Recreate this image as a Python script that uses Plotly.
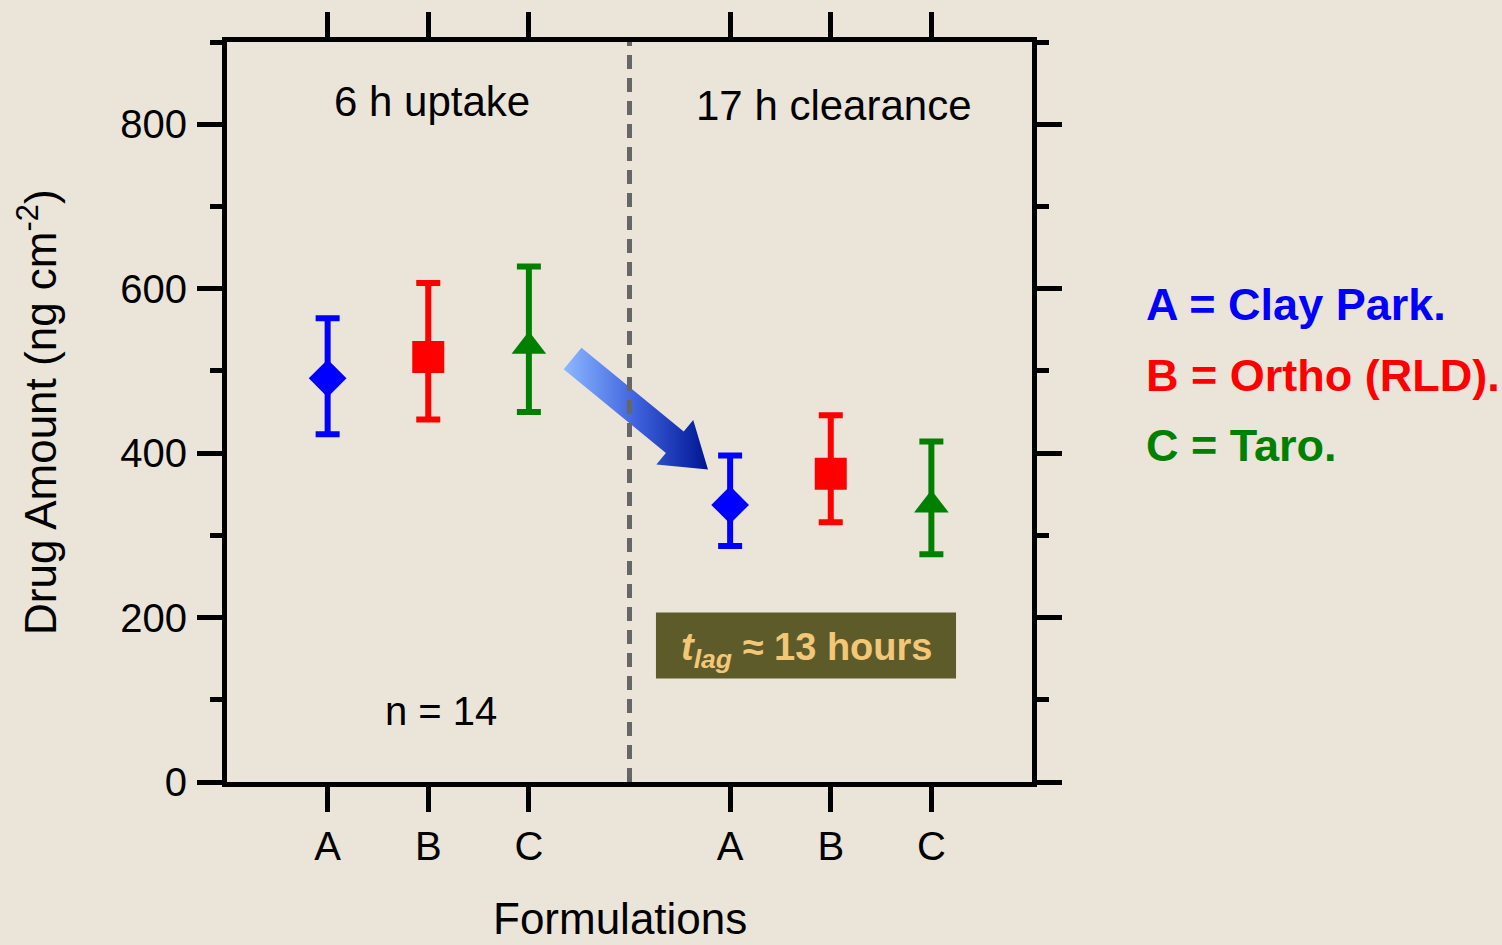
import numpy as np
import plotly.graph_objects as go

# Drug amount per formulation after 6 h uptake and 17 h clearance
formulations = ["A", "B", "C"]
phase_positions = {"6h": [1, 2, 3], "17h": [5, 6, 7]}
mean_6h = [491, 517, 530]
upper_6h = [564, 607, 627]
lower_6h = [423, 441, 450]
mean_17h = [337, 375, 337]
upper_17h = [397, 446, 414]
lower_17h = [287, 316, 277]

tick_vals = [1, 2, 3, 5, 6, 7]
tick_text = ["A", "B", "C", "A", "B", "C"]
legend_lines = ["A = Clay Park.", "B = Ortho (RLD).", "C = Taro."]

colors = ["#0000ff", "#ff0000", "#008000"]
symbols = ["diamond", "square", "triangle-up"]
sizes = [29, 32, 30]

W, H = 1502, 945
L, R, T, B = 227, 470, 38, 163
XR = (0, 8)
YR = (0, 900)
sx = (W - L - R) / (XR[1] - XR[0])
sy = (H - T - B) / (YR[1] - YR[0])

fig = go.Figure()

for i, name in enumerate(formulations):
    means = [mean_6h[i], mean_17h[i]]
    ups = [upper_6h[i], upper_17h[i]]
    lows = [lower_6h[i], lower_17h[i]]
    fig.add_trace(go.Scatter(
        x=[phase_positions["6h"][i], phase_positions["17h"][i]],
        y=means,
        mode="markers",
        name=name,
        marker=dict(symbol=symbols[i], size=sizes[i], color=colors[i],
                    line=dict(width=0)),
        error_y=dict(type="data", symmetric=False,
                     array=[u - m for u, m in zip(ups, means)],
                     arrayminus=[m - lo for m, lo in zip(means, lows)],
                     color=colors[i], thickness=6, width=12),
        hoverinfo="skip",
    ))

# Gradient arrow from the uptake group towards the clearance group
tail = np.array([3.434, 515.0])
tip = np.array([4.78, 380.0])
shaft_w, head_w, head_len = 28.0, 58.0, 43.0


def to_px(p):
    return np.array([(p[0] - XR[0]) * sx, -(p[1] - YR[0]) * sy])


def to_data(q):
    return (q[0] / sx + XR[0], -q[1] / sy + YR[0])


tp, hp = to_px(tail), to_px(tip)
d = hp - tp
u = d / np.linalg.norm(d)
n = np.array([-u[1], u[0]])
base = hp - u * head_len
pts_px = [
    tp - n * shaft_w / 2,
    base - n * shaft_w / 2,
    base - n * head_w / 2,
    hp,
    base + n * head_w / 2,
    base + n * shaft_w / 2,
    tp + n * shaft_w / 2,
    tp - n * shaft_w / 2,
]
arrow = [to_data(q) for q in pts_px]
fig.add_trace(go.Scatter(
    x=[a[0] for a in arrow], y=[a[1] for a in arrow],
    mode="lines", fill="toself", line=dict(width=0),
    fillgradient=dict(type="horizontal",
                      colorscale=[[0, "#8db8ff"], [0.5, "#3f63dd"], [1, "#001593"]]),
    hoverinfo="skip", showlegend=False,
))

# Phase separator
fig.add_shape(type="line", xref="x", yref="paper", x0=4, x1=4, y0=0, y1=1,
              line=dict(color="#666666", width=5, dash="14px,9px"))

font_main = dict(family="Liberation Sans, Arial, sans-serif", size=40, color="black")
font_label = dict(family="Liberation Sans, Arial, sans-serif", size=42, color="black")

fig.add_annotation(x=2.04, y=828, text="6 h uptake", showarrow=False, font=font_label)
fig.add_annotation(x=6.03, y=823, text="17 h clearance", showarrow=False, font=font_label)
fig.add_annotation(x=2.13, y=86, text="n = 14", showarrow=False, font=font_main)

# Lag-time box
fig.add_shape(type="rect", xref="x", yref="y", x0=4.263, x1=7.245, y0=126, y1=206,
              fillcolor="#5d5b2a", line=dict(width=0), layer="above")
fig.add_annotation(
    x=5.755, y=160, text="<i>t<sub>lag</sub></i> ≈ 13 hours", showarrow=False,
    font=dict(family="Liberation Sans, Arial, sans-serif", size=38, color="#f2c878",
              weight="bold"),
)

# Formulation key on the right
key_y = [302, 373, 444]
for txt, c, py in zip(legend_lines, colors, key_y):
    fig.add_annotation(
        xref="paper", yref="paper", x=(1144 - L) / (W - L - R),
        y=1 - (py - T) / (H - T - B), xanchor="left", yanchor="middle",
        text=txt, showarrow=False,
        font=dict(family="Liberation Sans, Arial, sans-serif", size=45, color=c,
                  weight="bold"),
    )

# Axis titles
fig.add_annotation(
    xref="paper", yref="paper", x=(37 - L) / (W - L - R), y=0.5,
    xanchor="center", yanchor="middle",
    text="Drug Amount (ng cm<sup>-2</sup>)", textangle=-90, showarrow=False,
    font=dict(family="Liberation Sans, Arial, sans-serif", size=44, color="black"),
)
fig.add_annotation(
    xref="paper", yref="paper", x=(620 - L) / (W - L - R),
    y=1 - (893 - T) / (H - T - B), yanchor="top",
    text="Formulations", showarrow=False,
    font=dict(family="Liberation Sans, Arial, sans-serif", size=44, color="black"),
)

fig.update_layout(
    width=W, height=H,
    margin=dict(l=L, r=R, t=T, b=B, pad=0),
    paper_bgcolor="#ebe5d9", plot_bgcolor="rgba(0,0,0,0)",
    showlegend=False, hovermode=False,
    font=font_main,
)
fig.update_xaxes(
    range=list(XR), tickvals=tick_vals, ticktext=tick_text,
    showgrid=False, zeroline=False, showline=True, linewidth=5, linecolor="black",
    mirror="ticks", ticks="outside", ticklen=25, tickwidth=5, tickcolor="black",
    ticklabelstandoff=0, tickfont=font_main,
)
fig.update_yaxes(
    range=list(YR), tickvals=[0, 200, 400, 600, 800],
    showgrid=False, zeroline=False, showline=True, linewidth=5, linecolor="black",
    mirror="ticks", ticks="outside", ticklen=25, tickwidth=5, tickcolor="black",
    ticklabelstandoff=2, tickfont=font_main,
    minor=dict(dtick=100, ticks="outside", ticklen=12, tickwidth=5,
               tickcolor="black", showgrid=False),
)

fig.write_html("out.html")
